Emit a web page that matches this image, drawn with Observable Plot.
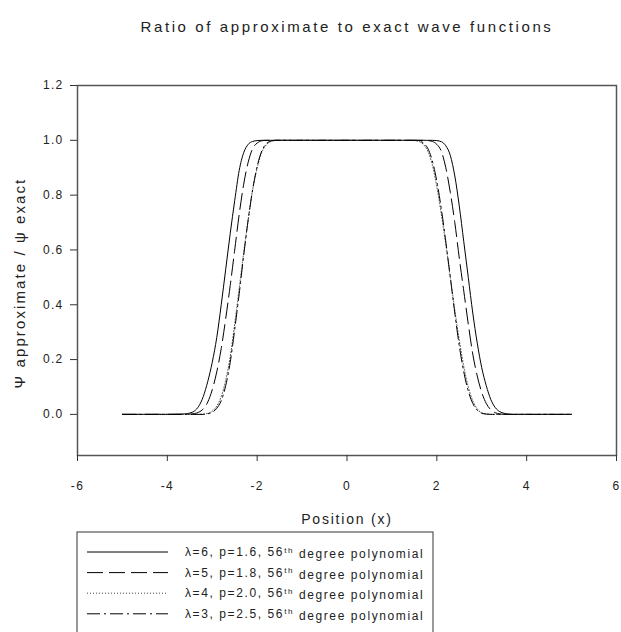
<!DOCTYPE html>
<html>
<head>
<meta charset="utf-8">
<script src="https://cdn.jsdelivr.net/npm/d3@7"></script>
<script src="https://cdn.jsdelivr.net/npm/@observablehq/plot@0.6"></script>
<style>
  html, body { margin: 0; padding: 0; background: #fff; }
  svg text { letter-spacing: 1.3px; }
</style>
</head>
<body>
<div id="chart"></div>
<script>
const titleText = "Ratio of approximate to exact wave functions";
const xLabel = "Position (x)";
const yLabel = "\u03A8 approximate / \u03C8 exact";
const xTicks = [-6, -4, -2, 0, 2, 4, 6];
const yTicks = [0, 0.2, 0.4, 0.6, 0.8, 1.0, 1.2];

const xs = [-5,-4.5,-4,-3.7,-3.6,-3.5,-3.4,-3.3,-3.2,-3.1,-3.0,-2.9,-2.8,-2.7,-2.6,-2.5,-2.4,-2.3,-2.2,-2.1,-2.0,-1.9,-1.8,-1.7,-1.6,-1.5,-1.2,-0.6,0,0.6,1.2,1.5,1.6,1.7,1.8,1.9,2.0,2.1,2.2,2.3,2.4,2.5,2.6,2.7,2.8,2.9,3.0,3.1,3.2,3.3,3.4,3.5,3.6,3.7,4,4.5,5];

const lambda6 = [0,0,0,0.001,0.002,0.005,0.012,0.03,0.065,0.12,0.19,0.28,0.40,0.53,0.66,0.78,0.89,0.955,0.985,0.996,0.999,1,1,1,1,1,1,1,1,1,1,1,1,1,1,1,0.999,0.995,0.98,0.945,0.87,0.76,0.63,0.50,0.37,0.26,0.17,0.105,0.055,0.025,0.01,0.004,0.001,0,0,0,0];
const lambda5 = [0,0,0,0,0,0.001,0.003,0.008,0.02,0.045,0.09,0.155,0.24,0.35,0.47,0.60,0.73,0.84,0.92,0.97,0.99,0.998,1,1,1,1,1,1,1,1,1,1,1,1,0.999,0.996,0.985,0.96,0.9,0.81,0.7,0.57,0.45,0.33,0.22,0.14,0.08,0.04,0.017,0.006,0.002,0,0,0,0,0,0];
const lambda4 = [0,0,0,0,0,0,0,0,0.001,0.004,0.012,0.03,0.065,0.125,0.21,0.33,0.46,0.59,0.71,0.82,0.9,0.955,0.983,0.995,0.999,1,1,1,1,1,1,0.999,0.996,0.985,0.96,0.91,0.83,0.73,0.62,0.5,0.38,0.27,0.175,0.1,0.05,0.02,0.006,0.002,0,0,0,0,0,0,0,0,0];
const lambda3 = [0,0,0,0,0,0,0,0,0,0.002,0.008,0.022,0.05,0.105,0.19,0.31,0.44,0.58,0.71,0.82,0.905,0.96,0.987,0.997,1,1,1,1,1,1,1,1,0.998,0.99,0.97,0.925,0.85,0.75,0.63,0.5,0.37,0.25,0.155,0.085,0.04,0.015,0.004,0.001,0,0,0,0,0,0,0,0,0];

const seriesLambda = ["6", "5", "4", "3"];
const seriesP = ["1.6", "1.8", "2.0", "2.5"];
const seriesDegree = ["56", "56", "56", "56"];
const seriesValues = [lambda6, lambda5, lambda4, lambda3];
const seriesDash = [null, "16,6", "1,2", "13,4,2,4"];
const seriesColor = ["#000", "#000", "#444", "#000"];

const font = "'Liberation Sans', Arial, sans-serif";
const hyphenFmt = d => (d < 0 ? "-" : "") + Math.abs(d);

const lineMarks = seriesValues.map((vals, k) =>
  Plot.line(xs.map((x, i) => ({x, y: vals[i]})), {
    x: "x", y: "y", stroke: seriesColor[k], strokeWidth: 1,
    strokeDasharray: seriesDash[k], curve: "monotone-x"
  })
);

const chart = Plot.plot({
  width: 621,
  height: 632,
  marginLeft: 77,
  marginRight: 5,
  marginTop: 85,
  marginBottom: 177,
  style: {fontFamily: font, fontSize: "12px", color: "#222", background: "#fff"},
  x: {domain: [-6, 6]},
  y: {domain: [-0.15, 1.2]},
  marks: [
    ...lineMarks,
    Plot.frame({stroke: "#555", strokeWidth: 1.5}),
    Plot.axisX({ticks: xTicks, tickSize: 6, tickPadding: 20, tickFormat: hyphenFmt, label: null, fontSize: 12, stroke: "#333"}),
    Plot.axisY({ticks: yTicks, tickSize: 7, tickPadding: 7, tickFormat: d3.format(".1f"), label: null, fontSize: 12, stroke: "#333"}),
    Plot.text([titleText], {frameAnchor: "top", dy: -58, fontSize: 15, fill: "#222", lineAnchor: "middle"}),
    Plot.text([xLabel], {frameAnchor: "bottom", dy: 64, fontSize: 14, fill: "#222", lineAnchor: "middle"})
  ]
});

document.getElementById("chart").appendChild(chart);

const svg = d3.select(chart);
svg.selectAll("text").filter(function() { return this.textContent === titleText; })
  .style("letter-spacing", "2.6px");
svg.selectAll("text").filter(function() { return this.textContent === xLabel; })
  .style("letter-spacing", "1.8px");

// Y axis title
svg.append("text")
  .attr("transform", "translate(20,283) rotate(-90)")
  .attr("text-anchor", "middle").attr("dy", "0.35em")
  .attr("font-family", font).attr("font-size", 15).attr("fill", "#222")
  .style("letter-spacing", "2.1px")
  .text(yLabel);

// Legend
const lg = svg.append("g").attr("font-family", font).attr("font-size", 12)
  .attr("fill", "#222").attr("text-anchor", "start");
lg.append("rect").attr("x", 77).attr("y", 532).attr("width", 356).attr("height", 130)
  .attr("fill", "none").attr("stroke", "#555").attr("stroke-width", 1.2);
seriesLambda.forEach((lam, k) => {
  const yy = 552 + k * 20.6;
  lg.append("line").attr("x1", 87).attr("x2", 168).attr("y1", yy).attr("y2", yy)
    .attr("stroke", seriesColor[k]).attr("stroke-width", 1)
    .attr("stroke-dasharray", seriesDash[k] || null);
  const t = lg.append("text").attr("x", 185).attr("y", yy).attr("dy", "0.35em")
    .style("letter-spacing", "1.6px");
  t.append("tspan").text(`\u03BB=${lam}, p=${seriesP[k]}, ${seriesDegree[k]}`);
  t.append("tspan").attr("dy", "-0.45em").attr("font-size", 8).text("th");
  t.append("tspan").attr("dy", "0.45em").text(" degree polynomial");
});
</script>
</body>
</html>
